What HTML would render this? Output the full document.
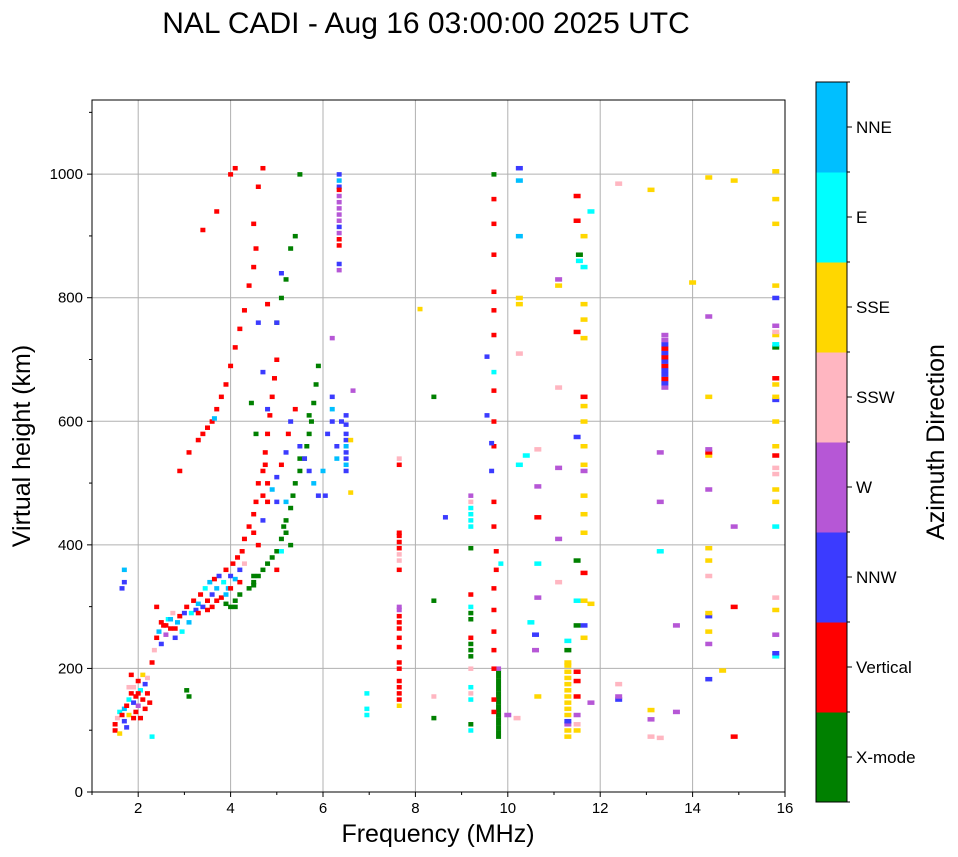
<!DOCTYPE html>
<html><head><meta charset="utf-8"><style>
html,body{margin:0;padding:0;background:#fff;}
svg{display:block;font-family:"Liberation Sans","DejaVu Sans",sans-serif;}
</style></head><body>
<svg id="chart" width="958" height="857" viewBox="0 0 958 857">
<text x="426" y="33" font-size="30" text-anchor="middle">NAL CADI - Aug 16 03:00:00 2025 UTC</text>
<g id="grid"></g>
<g id="marks"></g>
<rect x="92" y="100" width="693" height="692" fill="none" stroke="#000" stroke-width="1"/>
<g id="axes"></g>
<text x="438" y="842" font-size="25" text-anchor="middle">Frequency (MHz)</text>
<text x="30" y="446" font-size="25" text-anchor="middle" transform="rotate(-90 30 446)">Virtual height (km)</text>
<g id="cbar"></g>
<text x="944" y="442" font-size="25" text-anchor="middle" transform="rotate(-90 944 442)">Azimuth Direction</text>
</svg>
<script>
const categories=["X-mode","Vertical","NNW","W","SSW","SSE","E","NNE"];
const catColors=["#008000","#ff0000","#3b3bff","#b657d6","#ffb6c1","#ffd700","#00ffff","#00bfff"];
const xTicks=[2,4,6,8,10,12,14,16];
const yTicks=[0,200,400,600,800,1000];
const echoes=[
[1.5,100,1],[1.5,110,1],[1.55,120,4],[1.6,95,5],[1.6,130,6],[1.65,125,1],[1.7,135,7],[1.7,115,2],[1.75,140,1],[1.8,150,6],[1.8,125,5],[1.85,160,1],[1.9,145,2],[1.9,170,4],[1.95,155,1],[2.0,180,1],[2.0,140,3],[2.05,165,6],[2.1,150,1],[2.1,190,5],[2.15,175,2],[2.2,160,1],[2.2,185,4],[2.25,145,1],[1.85,190,1],[1.95,130,1],[2.05,120,1],[1.75,105,2],[1.8,170,4],[2.0,160,1],[1.9,120,1],[2.15,135,1],[1.7,340,2],[1.7,360,7],[1.65,330,2],[2.3,90,6],
[2.3,210,1],[2.35,230,4],[2.4,250,1],[2.4,300,1],[2.45,260,7],[2.5,240,2],[2.55,270,1],[2.6,255,3],[2.65,280,6],[2.7,265,1],[2.75,290,4],[2.8,250,2],[2.85,275,7],[2.9,285,1],[2.95,260,6],[3.0,290,2],[3.05,300,1],[3.1,275,7],[3.15,290,6],[3.2,310,1],[3.25,295,2],[3.3,305,7],[3.35,320,1],[3.4,300,2],[3.45,330,6],[3.5,310,1],[3.55,340,7],[3.6,320,2],[3.65,345,1],[3.7,330,7],[3.75,350,2],[3.8,315,1],[3.85,340,6],[3.9,360,1],[3.95,330,7],[4.0,350,2],[4.05,370,1],[4.1,345,7],[4.15,380,1],[4.2,360,2],[4.25,390,1],[4.3,370,4],[3.6,300,1],[3.7,310,1],[2.6,270,1],[2.8,265,1],[3.3,290,1],[3.5,295,1],[2.5,275,1],[2.7,280,7],[3.9,320,7],[4.0,330,1],[4.2,340,1],
[3.9,305,0],[4.0,300,0],[4.1,310,0],[4.2,320,0],[4.4,330,0],[4.5,340,0],[4.6,350,0],[4.7,360,0],[4.8,370,0],[4.9,380,0],[5.0,390,0],[5.1,410,0],[5.15,430,0],[5.2,440,0],[5.3,460,0],[5.35,480,0],[5.4,500,0],[5.5,520,0],[5.6,540,0],[5.65,560,0],[5.7,580,0],[5.75,600,0],[5.8,630,0],[5.85,660,0],[5.9,690,0],[5.4,900,0],[5.3,880,0],[5.5,1000,0],[5.2,830,0],[5.1,800,0],[5.0,760,0],[3.1,155,0],[3.05,165,0],[4.45,630,0],[4.55,580,0],[4.5,335,0],[5.2,420,0],[4.1,300,0],[4.5,350,0],[5.3,400,0],[5.5,540,0],[5.7,610,0],
[4.3,410,1],[4.4,430,1],[4.5,450,1],[4.55,470,1],[4.6,500,1],[4.7,520,1],[4.75,550,1],[4.8,580,1],[4.85,610,1],[4.9,640,1],[4.95,670,1],[5.0,700,1],[4.6,400,1],[4.7,440,2],[4.8,470,1],[4.9,490,7],[5.0,510,2],[5.1,530,1],[5.2,550,2],[5.25,580,1],[5.3,600,2],[5.4,620,1],[5.5,560,2],[5.6,540,2],[5.7,520,2],[5.8,500,7],[5.9,480,2],[5.0,470,2],[5.2,470,7],[5.1,390,6],[5.0,360,1],[4.5,420,1],[4.7,480,1],[4.75,530,1],[4.8,500,1],
[3.3,570,1],[3.4,580,1],[3.5,590,1],[3.6,600,1],[3.7,620,1],[3.8,640,1],[3.9,660,1],[4.0,690,1],[4.1,720,1],[4.2,750,1],[4.3,780,1],[4.4,820,1],[4.5,850,1],[4.55,880,1],[4.5,920,1],[3.4,910,1],[3.7,940,1],[4.0,1000,1],[4.1,1010,1],[4.7,1010,1],[4.6,980,1],[3.1,550,1],[2.9,520,1],[4.6,760,2],[4.8,790,1],[5.1,840,2],[5.0,760,2],[4.8,620,2],[4.7,680,2],[3.65,605,7],
[6.35,1000,2],[6.35,990,7],[6.35,980,2],[6.35,975,1],[6.35,965,3],[6.35,955,3],[6.35,945,3],[6.35,935,3],[6.35,925,3],[6.35,915,2],[6.35,905,3],[6.35,895,1],[6.35,885,1],[6.35,855,2],[6.35,845,3],
[6.5,520,2],[6.5,530,7],[6.5,540,2],[6.5,550,2],[6.5,560,7],[6.5,570,2],[6.5,580,2],[6.5,595,2],[6.5,610,2],[6.2,640,2],[6.2,620,7],[6.2,600,2],[6.1,580,2],[6.3,560,2],[6.3,540,7],[6.0,520,7],[6.4,600,2],[6.6,570,5],[6.65,650,3],[6.2,735,3],[6.05,480,2],[6.6,485,5],
[6.95,125,6],[6.95,135,6],[6.95,160,6],
[7.65,140,5],[7.65,150,1],[7.65,160,1],[7.65,170,1],[7.65,180,1],[7.65,200,1],[7.65,210,1],[7.65,235,1],[7.65,250,1],[7.65,265,1],[7.65,275,1],[7.65,285,1],[7.65,295,3],[7.65,300,3],[7.65,360,1],[7.65,375,4],[7.65,385,4],[7.65,395,1],[7.65,405,1],[7.65,415,1],[7.65,420,1],[7.65,530,1],[7.65,540,4],
[8.1,782,5],[8.4,120,0],[8.4,155,4],[8.4,310,0],[8.4,640,0],[8.65,445,2],
[9.2,100,6],[9.2,110,0],[9.2,150,6],[9.2,160,4],[9.2,170,6],[9.2,200,4],[9.2,220,0],[9.2,230,0],[9.2,240,0],[9.2,250,1],[9.2,280,0],[9.2,290,0],[9.2,300,6],[9.2,320,1],[9.2,395,0],[9.2,430,6],[9.2,440,6],[9.2,450,6],[9.2,460,6],[9.2,470,4],[9.2,480,3],
[9.55,610,2],[9.55,705,2],
[9.8,90,0],[9.8,97,0],[9.8,104,0],[9.8,111,0],[9.8,118,0],[9.8,125,0],[9.8,132,0],[9.8,139,0],[9.8,146,0],[9.8,153,0],[9.8,160,0],[9.8,167,0],[9.8,174,0],[9.8,181,0],[9.8,188,0],[9.8,195,0],[9.8,200,3],[9.7,200,1],[9.7,130,1],[9.7,150,1],[9.7,230,1],[9.7,260,1],[9.7,295,1],[9.7,330,1],[9.75,360,1],[9.75,390,1],[9.85,370,6],[9.7,430,1],[9.7,470,1],[9.7,560,1],[9.7,600,1],[9.7,650,1],[9.7,680,6],[9.7,740,1],[9.7,780,1],[9.7,810,1],[9.7,870,1],[9.7,920,1],[9.7,960,1],[9.7,1000,0],[9.65,520,2],[9.65,565,2],
[10.0,125,3],[10.2,120,4],[10.25,1010,2],[10.25,990,7],[10.25,900,7],[10.25,800,5],[10.25,790,5],[10.25,710,4],[10.25,530,6],[10.4,545,6],[10.5,275,6],[10.6,255,2],[10.6,230,3],[10.65,155,5],[10.65,315,3],[10.65,370,6],[10.65,445,1],[10.65,495,3],[10.65,555,4],
[11.1,340,4],[11.1,410,3],[11.1,525,3],[11.1,655,4],[11.1,820,5],[11.1,830,3],[11.3,90,5],[11.3,100,5],[11.3,110,3],[11.3,115,2],[11.3,125,5],[11.3,135,5],[11.3,145,5],[11.3,155,5],[11.3,165,5],[11.3,175,5],[11.3,185,5],[11.3,195,5],[11.3,205,5],[11.3,210,5],[11.3,230,0],[11.3,245,6],[11.5,100,5],[11.5,110,4],[11.5,125,3],[11.5,155,1],[11.5,180,1],[11.5,195,1],[11.5,270,0],[11.5,310,6],[11.5,375,0],[11.5,575,2],[11.5,745,1],[11.5,925,1],[11.5,965,1],[11.55,870,0],[11.55,860,6],
[11.65,250,5],[11.65,270,2],[11.65,310,5],[11.65,355,1],[11.65,420,5],[11.65,450,5],[11.65,480,5],[11.65,520,3],[11.65,530,5],[11.65,560,5],[11.65,600,5],[11.65,625,5],[11.65,640,1],[11.65,735,5],[11.65,765,5],[11.65,790,5],[11.65,900,5],[11.65,850,6],[11.8,145,3],[11.8,305,5],[11.8,940,6],
[12.4,150,2],[12.4,155,3],[12.4,175,4],[12.4,985,4],
[13.1,90,4],[13.1,118,3],[13.1,133,5],[13.1,975,5],[13.3,88,4],[13.3,390,6],[13.3,470,3],[13.3,550,3],
[13.4,655,3],[13.4,662,2],[13.4,669,1],[13.4,676,2],[13.4,683,2],[13.4,690,1],[13.4,697,2],[13.4,704,1],[13.4,711,2],[13.4,718,1],[13.4,725,2],[13.4,732,3],[13.4,740,3],
[13.65,130,3],[13.65,270,3],[14.0,825,5],
[14.35,183,2],[14.35,240,3],[14.35,260,5],[14.35,285,2],[14.35,290,5],[14.35,350,4],[14.35,375,5],[14.35,395,5],[14.35,490,3],[14.35,545,5],[14.35,550,1],[14.35,555,3],[14.35,640,5],[14.35,770,3],[14.35,995,5],
[14.65,197,5],[14.9,90,1],[14.9,300,1],[14.9,430,3],[14.9,990,5],
[15.8,220,6],[15.8,225,2],[15.8,255,3],[15.8,295,5],[15.8,315,4],[15.8,430,6],[15.8,470,5],[15.8,490,5],[15.8,515,4],[15.8,525,4],[15.8,545,1],[15.8,560,5],[15.8,600,5],[15.8,635,2],[15.8,640,5],[15.8,660,5],[15.8,670,1],[15.8,720,0],[15.8,725,6],[15.8,740,5],[15.8,745,4],[15.8,755,3],[15.8,800,2],[15.8,820,5],[15.8,920,5],[15.8,960,5],[15.8,1005,5]
];
const NS="http://www.w3.org/2000/svg";
const X0=92,X1=785,Y0=792,Y1=100,FMIN=1,FMAX=16,HMAX=1120;
function xs(f){return X0+(f-FMIN)/(FMAX-FMIN)*(X1-X0);}
function ys(h){return Y0-h/HMAX*(Y0-Y1);}
function mk(tag,attrs,parent){const e=document.createElementNS(NS,tag);for(const k in attrs)e.setAttribute(k,attrs[k]);parent.appendChild(e);return e;}
const grid=document.getElementById('grid'),axes=document.getElementById('axes'),marks=document.getElementById('marks'),cbar=document.getElementById('cbar');
xTicks.forEach(t=>{const x=xs(t);
 const g=mk('line',{x1:x,x2:x,y1:Y1,y2:Y0,stroke:'#b0b0b0','stroke-width':1},grid);
 
 
 mk('line',{x1:x,x2:x,y1:Y0,y2:Y0+5,stroke:'#000'},axes);
 const l=mk('text',{x:x,y:Y0+21,'font-size':15,'text-anchor':'middle'},axes);l.textContent=t;
 
 
});
for(let t=1;t<=16;t+=2){const x=xs(t);mk('line',{x1:x,x2:x,y1:Y0,y2:Y0+3,stroke:'#000'},axes);}
yTicks.forEach(t=>{const y=ys(t);
 const g=mk('line',{x1:X0,x2:X1,y1:y,y2:y,stroke:'#b0b0b0','stroke-width':1},grid);
 
 
 mk('line',{x1:X0-5,x2:X0,y1:y,y2:y,stroke:'#000'},axes);
 const l=mk('text',{x:X0-9,y:y+5,'font-size':15,'text-anchor':'end'},axes);l.textContent=t;
 
 
});
for(let t=100;t<=1100;t+=200){const y=ys(t);mk('line',{x1:X0-3,x2:X0,y1:y,y2:y,stroke:'#000'},axes);}
echoes.forEach(p=>{const f=p[0],h=p[1],c=p[2];
 const w=f<10?5:7;
 const r=mk('rect',{x:xs(f)-w/2,y:ys(h)-2,width:w,height:4.5,fill:catColors[c]},marks);
 
 
});
const CX=816,CW=31,CT=82,CB=802,seg=(CB-CT)/categories.length;
categories.forEach((n,i)=>{const y=CB-(i+1)*seg;
 const r=mk('rect',{x:CX,y:y,width:CW,height:seg+0.5,fill:catColors[i]},cbar);
 
 
 mk('line',{x1:CX+CW,x2:CX+CW+5,y1:y+seg/2,y2:y+seg/2,stroke:'#000'},cbar);
 const l=mk('text',{x:CX+CW+9,y:y+seg/2+6,'font-size':17},cbar);l.textContent=n;
 
 
});
for(let i=0;i<=categories.length;i++){const y=CB-i*seg;mk('line',{x1:CX+CW,x2:CX+CW+3,y1:y,y2:y,stroke:'#000'},cbar);}
mk('rect',{x:CX,y:CT,width:CW,height:CB-CT,fill:'none',stroke:'#000','stroke-width':1},cbar);
</script>
</body></html>
